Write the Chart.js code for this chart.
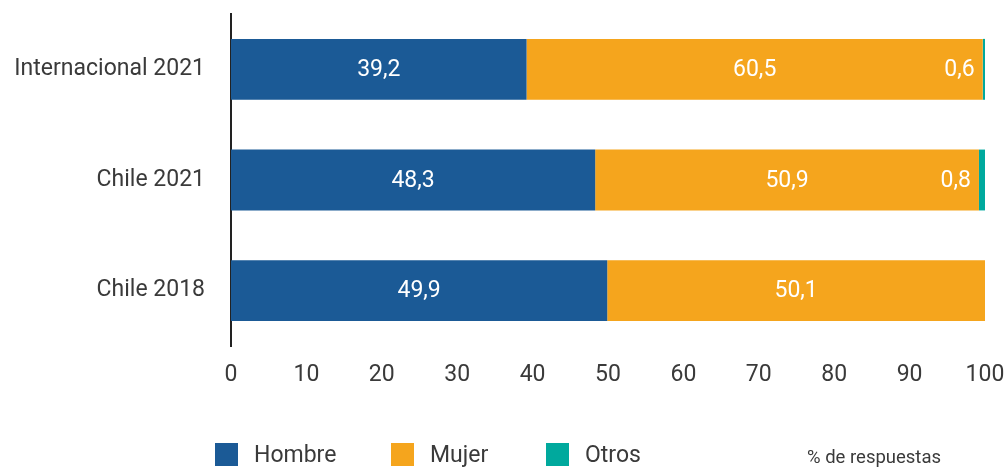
<!DOCTYPE html>
<html>
<head>
<meta charset="utf-8">
<script src="https://cdn.jsdelivr.net/npm/chart.js@4"></script>
<style>
  html, body { margin: 0; padding: 0; background: #fff; }
  #wrap { position: relative; width: 1004px; height: 467px; }
  #legend { position: absolute; left: 0; top: 441px; height: 26px; width: 1004px;
            font-family: Roboto, sans-serif; font-size: 23px; color: #3a3a3a; }
  .item { position: absolute; top: 0; display: flex; align-items: center; }
  .sw { width: 23px; height: 23px; display: inline-block; margin-right: 16px; }
  #unit { position: absolute; left: 807px; top: 446px; font-family: Roboto, sans-serif;
          font-size: 18.5px; color: #3a3a3a; }
</style>
</head>
<body>
<div id="wrap">
  <canvas id="chart" width="1004" height="467"></canvas>
  <div id="legend"></div>
  <div id="unit">% de respuestas</div>
</div>
<script>
// ── Data ─────────────────────────────────────────────
const categories = ['Internacional 2021', 'Chile 2021', 'Chile 2018'];
const hombre = [39.2, 48.3, 49.9];
const mujer  = [60.5, 50.9, 50.1];
const otros  = [0.6, 0.8, null];
const seriesNames = ['Hombre', 'Mujer', 'Otros'];
const seriesColors = ['#1b5a96', '#f5a51d', '#00a99d'];
const xTicks = [0, 10, 20, 30, 40, 50, 60, 70, 80, 90, 100];

const FONT = 'Roboto, sans-serif';
const TEXT = '#3a3a3a';

// ── Legend (HTML, fixed positions like the original) ─
(function () {
    const host = document.getElementById('legend');
    const lefts = [215, 391, 546];
    host.innerHTML = seriesNames.map((n, i) =>
        `<div class="item" style="left:${lefts[i]}px">
            <span class="sw" style="background:${seriesColors[i]}"></span><span>${n}</span>
         </div>`).join('');
})();

// value labels: small "Otros" values sit just inside the end of the Mujer bar
const fmt = v => v.toFixed(1).replace('.', ',');
const valueLabels = {
    id: 'valueLabels',
    afterDatasetsDraw(chart) {
        const c = chart.ctx;
        c.save();
        c.font = `23px ${FONT}`;
        c.fillStyle = '#ffffff';
        c.textBaseline = 'middle';
        chart.data.datasets.forEach((ds, di) => {
            const meta = chart.getDatasetMeta(di);
            meta.data.forEach((bar, i) => {
                const v = ds.data[i];
                if (v == null) return;
                if (di < 2) {
                    c.textAlign = 'center';
                    c.fillText(fmt(v), (bar.x + bar.base) / 2, bar.y + 1);
                } else {
                    c.textAlign = 'right';
                    c.fillText(fmt(v), bar.base - 8, bar.y + 1);
                }
            });
        });
        c.restore();
    }
};

new Chart(document.getElementById('chart'), {
    type: 'bar',
    data: {
        labels: categories,
        datasets: seriesNames.map((n, i) => ({
            label: n,
            data: [hombre, mujer, otros][i],
            backgroundColor: seriesColors[i],
            borderWidth: 0,
            barPercentage: 0.55,
            categoryPercentage: 1.0,
        })),
    },
    options: {
        indexAxis: 'y',
        responsive: false,
        animation: false,
        layout: { padding: { left: 10, right: 19, top: 14, bottom: 80 } },
        plugins: { legend: { display: false }, tooltip: { enabled: false } },
        scales: {
            x: {
                stacked: true,
                min: 0, max: 100,
                afterBuildTicks: s => { s.ticks = xTicks.map(v => ({ value: v })); },
                afterFit: s => { s.paddingLeft = 0; s.paddingRight = 0; s.height = 41; },
                grid: { display: false, drawTicks: false },
                border: { display: false },
                ticks: { color: TEXT, font: { family: FONT, size: 23 }, padding: 15, maxRotation: 0 },
            },
            y: {
                stacked: true,
                afterFit: s => { s.width = 221; s.paddingTop = 0; s.paddingBottom = 0; },
                grid: { display: false, drawTicks: false },
                border: { display: true, color: '#222', width: 2 },
                ticks: { color: TEXT, font: { family: FONT, size: 23 }, padding: 26 },
            },
        },
    },
    plugins: [valueLabels],
});
</script>
</body>
</html>
